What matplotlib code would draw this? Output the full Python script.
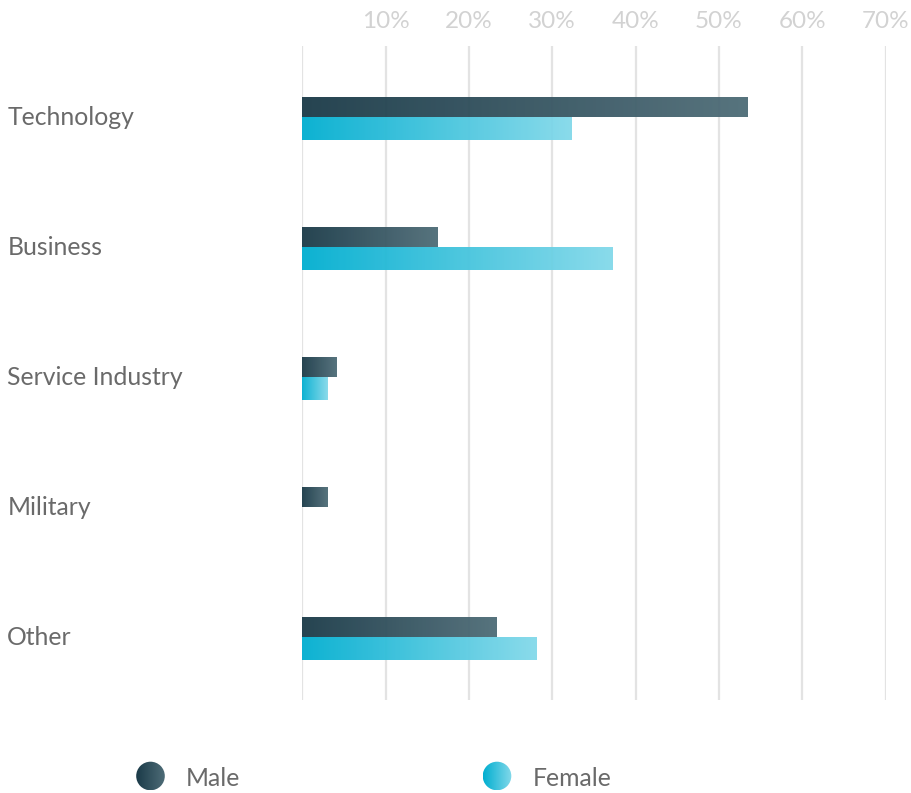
import numpy as np
import matplotlib
matplotlib.use("Agg")
import matplotlib.pyplot as plt
from matplotlib.colors import LinearSegmentedColormap
from matplotlib.patches import Circle

# Share of respondents by sector (%)
categories = ["Technology", "Business", "Service Industry", "Military", "Other"]
male = [53.5, 16.3, 4.1, 3.1, 23.4]
female = [32.3, 37.3, 3.1, 0.0, 28.2]
tick_values = [10, 20, 30, 40, 50, 60, 70]
tick_labels = [f"{v}%" for v in tick_values]
series_names = ["Male", "Female"]

male_cmap = LinearSegmentedColormap.from_list("male", ["#1a3a48", "#4e6c77"])
female_cmap = LinearSegmentedColormap.from_list("female", ["#00aed0", "#84d9ea"])

W, H = 911, 793
fig = plt.figure(figsize=(W / 100, H / 100), dpi=100)
fig.patch.set_facecolor("white")

# main plotting area (pixel box: x 302..885, y 46..700)
left, right, top, bottom = 302.3, 885.5, 46, 700
ax = fig.add_axes([left / W, 1 - bottom / H, (right - left) / W, (bottom - top) / H])
row = 130.0  # pixel spacing between categories
ax.axis("off")

# vertical gridlines
for v in [0] + tick_values:
    ax.axvline(v, color="#e3e3e3", lw=1.6, zorder=0)

grad = np.linspace(0, 1, 256).reshape(1, -1)


def gradient_bar(x1, y0, y1, cmap):
    if x1 <= 0:
        return
    ax.imshow(grad, cmap=cmap, extent=[0, x1, y1, y0], aspect="auto",
              interpolation="bicubic", alpha=0.95, zorder=2)


m_top, m_bot = -21 / row, -1 / row
f_top, f_bot = -1 / row, 22 / row
for i, (m, f) in enumerate(zip(male, female)):
    gradient_bar(m, i + m_top, i + m_bot, male_cmap)
    gradient_bar(f, i + f_top, i + f_bot, female_cmap)

ax.set_xlim(0, 70)
ax.set_ylim((bottom - 118.5) / row, (top - 118.5) / row)

font = ["Lato", "DejaVu Sans"]

# category labels
for i, name in enumerate(categories):
    ax.text(-295 / (right - left) * 70, i - 0.008, name, ha="left", va="center",
            fontsize=17.8, color="#6a6a6a", family=font, clip_on=False)

# tick labels above the plot
for v, lab in zip(tick_values, tick_labels):
    ax.text(v, (21 - 118.5) / row, lab, ha="center", va="center", fontsize=17.5,
            color="#d2d2d2", family=font, clip_on=False)

# legend in pixel coordinates
lax = fig.add_axes([0, 0, 1, 1], zorder=5)
lax.axis("off")
legend_items = [(150.5, male_cmap, 186), (497, female_cmap, 533)]
for (cx, cmap, tx), name in zip(legend_items, series_names):
    r = 14.3
    im = lax.imshow(grad, cmap=cmap, extent=[cx - r, cx + r, 776 + r, 776 - r],
                    aspect="auto", interpolation="bicubic")
    circ = Circle((cx, 776), r, transform=lax.transData, facecolor="none", edgecolor="none")
    lax.add_patch(circ)
    im.set_clip_path(circ)
    lax.text(tx, 778, name, ha="left", va="center", fontsize=17.8,
             color="#6a6a6a", family=font)
lax.set_xlim(0, W)
lax.set_ylim(H, 0)

fig.savefig("out.png", dpi=100, facecolor="white")
